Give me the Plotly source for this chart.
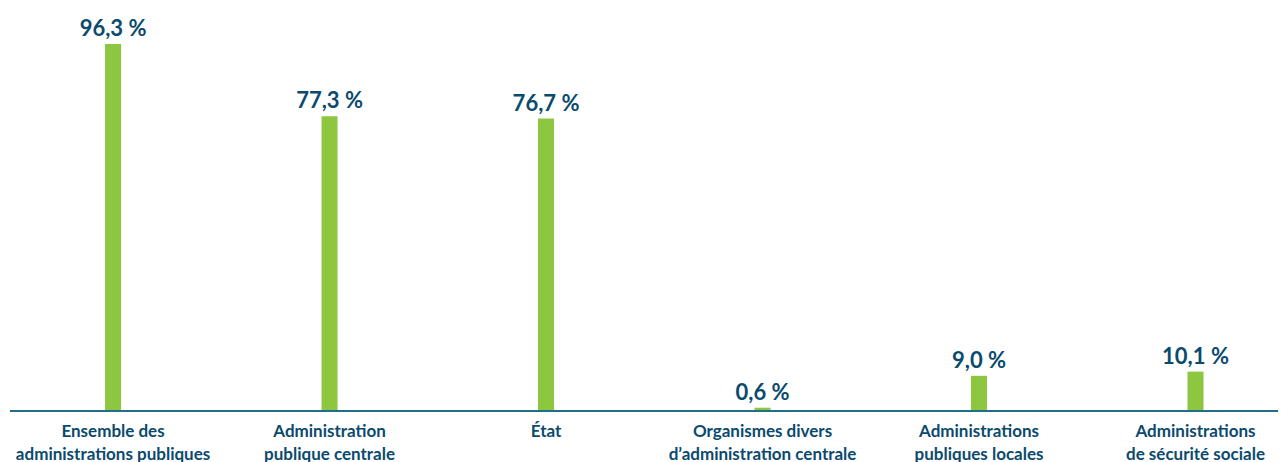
import plotly.graph_objects as go

categories = [
    "Ensemble des<br>administrations publiques",
    "Administration<br>publique centrale",
    "État",
    "Organismes divers<br>d’administration centrale",
    "Administrations<br>publiques locales",
    "Administrations<br>de sécurité sociale",
]
values = [96.3, 77.3, 76.7, 0.6, 9.0, 10.1]

labels = [f"{v:.1f}".replace(".", ",") + " %" for v in values]

dark = "#0b4a6e"
green = "#8dc63f"

fig = go.Figure(go.Bar(
    x=list(range(len(categories))),
    y=values,
    width=0.074,
    marker=dict(color=green, line=dict(width=0)),
    text=labels,
    textposition="outside",
    constraintext="none",
    textfont=dict(family="Lato, sans-serif", size=22, color=dark, weight="bold"),
    cliponaxis=False,
))

fig.update_layout(
    width=1286, height=462,
    margin=dict(l=2, r=8, t=0, b=60),
    plot_bgcolor="white", paper_bgcolor="white",
    showlegend=False,
    xaxis=dict(
        range=[-0.476, 5.418],
        tickmode="array",
        tickvals=list(range(len(categories))),
        ticktext=[f"<b>{c}</b>" for c in categories],
        tickfont=dict(family="Lato, sans-serif", size=17, color=dark),
        ticklabelstandoff=5,
        showline=True, linecolor="#1f6e8c", linewidth=2,
        showgrid=False, zeroline=False, ticks="",
        automargin=False,
    ),
    yaxis=dict(range=[0, 105.8], visible=False, showgrid=False, zeroline=False),
)

fig.write_html("out.html")
